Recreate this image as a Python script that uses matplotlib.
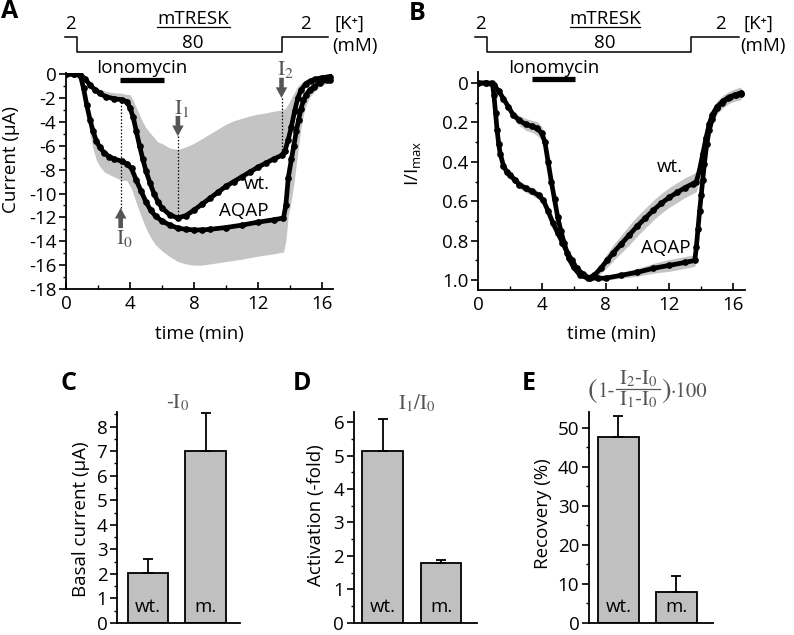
import matplotlib
matplotlib.use("Agg")
import matplotlib.pyplot as plt
from matplotlib.ticker import MultipleLocator, FixedLocator
from matplotlib.transforms import blended_transform_factory

plt.rcParams["font.family"] = ["Open Sans", "DejaVu Sans"]
plt.rcParams["mathtext.fontset"] = "custom"
plt.rcParams["mathtext.rm"] = "Open Sans"
plt.rcParams["mathtext.it"] = "Open Sans:italic"
plt.rcParams["axes.unicode_minus"] = False

# ---- panel A: raw currents (uA) ----
a_wt_t = [0.0, 0.5, 0.9, 1.2, 1.5, 1.8, 2.1, 2.5, 3.0, 3.5,
          3.8, 4.0, 4.2, 4.4, 4.6, 4.8, 5.0, 5.25, 5.5, 5.75,
          6.0, 6.5, 7.0, 7.5, 8.0, 8.5, 9.0, 9.5, 10.0, 10.5,
          11.0, 11.5, 12.0, 12.5, 13.0, 13.5, 13.7, 13.9, 14.1, 14.3,
          14.5, 14.7, 15.0, 15.3, 15.6, 16.0, 16.5]
a_wt_i = [0.0, 0.0, -0.05, -0.4, -0.9, -1.3, -1.6, -1.9, -2.05, -2.15,
          -2.3, -2.8, -3.6, -4.8, -6.0, -7.1, -8.1, -9.1, -10.0, -10.7,
          -11.2, -11.8, -12.05, -11.85, -11.4, -10.9, -10.4, -9.9, -9.4, -9.0,
          -8.6, -8.2, -7.8, -7.45, -7.1, -6.8, -6.4, -5.5, -4.4, -3.1,
          -2.0, -1.35, -0.8, -0.55, -0.42, -0.3, -0.2]
a_wt_err = [0.05, 0.05, 0.05, 0.1, 0.2, 0.3, 0.35, 0.45, 0.5, 0.55,
            0.6, 1.1, 1.4, 2.0, 2.6, 3.1, 3.6, 4.2, 4.7, 5.0,
            5.4, 5.6, 5.75, 5.75, 5.6, 5.5, 5.4, 5.3, 5.2, 5.1,
            4.9, 4.7, 4.45, 4.2, 4.0, 3.8, 3.5, 3.0, 2.4, 1.6,
            1.0, 0.6, 0.35, 0.25, 0.2, 0.15, 0.1]

a_aqap_t = [0.0, 0.5, 0.9, 1.1, 1.3, 1.5, 1.7, 1.9, 2.1, 2.4,
            2.7, 3.0, 3.5, 3.8, 4.1, 4.4, 4.7, 5.0, 5.3, 5.6,
            6.0, 6.5, 7.0, 7.5, 8.0, 8.5, 9.0, 10.0, 11.0, 12.0,
            13.0, 13.6, 13.75, 13.9, 14.1, 14.25, 14.4, 14.55, 14.7, 14.85,
            15.0, 15.25, 15.5, 15.9, 16.3, 16.5]
a_aqap_i = [0.0, 0.0, -0.1, -1.2, -2.6, -3.8, -4.8, -5.6, -6.1, -6.6,
            -6.9, -7.1, -7.3, -7.5, -7.9, -8.9, -9.8, -10.7, -11.4, -11.9,
            -12.3, -12.65, -12.9, -13.0, -13.05, -13.05, -13.0, -12.85, -12.65, -12.4,
            -12.2, -12.05, -11.0, -8.7, -7.1, -6.0, -4.8, -3.8, -2.9, -2.2,
            -1.76, -1.3, -1.06, -0.7, -0.5, -0.45]
a_aqap_err = [0.05, 0.05, 0.1, 0.4, 0.8, 1.2, 1.5, 1.6, 1.6, 1.6,
              1.5, 1.5, 1.6, 1.4, 1.7, 1.9, 2.1, 2.2, 2.3, 2.4,
              2.5, 2.65, 2.8, 2.9, 2.95, 2.95, 2.9, 2.85, 2.85, 2.85,
              2.85, 2.85, 3.0, 3.2, 3.4, 3.2, 2.8, 2.2, 1.6, 1.2,
              0.9, 0.6, 0.45, 0.3, 0.25, 0.2]

# ---- panel B: normalised currents I/Imax ----
b_wt_t = [0.0, 0.5, 1.0, 1.3, 1.6, 1.9, 2.2, 2.6, 3.0, 3.4,
          3.7, 4.0, 4.2, 4.4, 4.6, 4.8, 5.0, 5.2, 5.4, 5.7,
          6.0, 6.4, 6.9, 7.3, 7.7, 8.1, 8.5, 9.0, 9.5, 10.0,
          10.5, 11.0, 11.5, 12.0, 12.5, 13.0, 13.5, 13.7, 13.9, 14.1,
          14.3, 14.5, 14.7, 15.0, 15.4, 15.8, 16.2, 16.5]
b_wt_v = [0.0, 0.0, 0.01, 0.04, 0.08, 0.12, 0.16, 0.19, 0.21, 0.22,
          0.23, 0.255, 0.30, 0.40, 0.50, 0.59, 0.68, 0.75, 0.81, 0.89,
          0.935, 0.975, 0.99, 0.975, 0.94, 0.90, 0.86, 0.815, 0.77, 0.725,
          0.685, 0.645, 0.61, 0.58, 0.555, 0.53, 0.51, 0.50, 0.44, 0.36,
          0.28, 0.21, 0.16, 0.12, 0.09, 0.07, 0.06, 0.055]
b_wt_err = [0.005, 0.005, 0.005, 0.01, 0.015, 0.02, 0.02, 0.025, 0.03, 0.03,
            0.035, 0.035, 0.03, 0.025, 0.02, 0.02, 0.02, 0.02, 0.02, 0.015,
            0.015, 0.01, 0.01, 0.015, 0.025, 0.035, 0.04, 0.045, 0.05, 0.05,
            0.05, 0.05, 0.05, 0.05, 0.05, 0.05, 0.05, 0.05, 0.04, 0.035,
            0.03, 0.03, 0.03, 0.03, 0.03, 0.03, 0.03, 0.03]

b_aqap_t = [0.0, 0.5, 0.9, 1.0, 1.1, 1.2, 1.3, 1.4, 1.6, 1.8,
            2.0, 2.3, 2.6, 3.0, 3.4, 3.8, 4.1, 4.4, 4.7, 5.0,
            5.3, 5.6, 5.9, 6.2, 6.6, 7.0, 7.5, 8.0, 9.0, 10.0,
            11.0, 12.0, 13.0, 13.6, 13.7, 13.8, 13.9, 14.0, 14.1, 14.2,
            14.35, 14.5, 14.7, 15.0, 15.3, 15.7, 16.1, 16.5]
b_aqap_v = [0.0, 0.0, 0.0, 0.06, 0.15, 0.24, 0.31, 0.36, 0.42, 0.45,
            0.467, 0.49, 0.515, 0.535, 0.55, 0.57, 0.595, 0.65, 0.71, 0.76,
            0.81, 0.86, 0.90, 0.94, 0.97, 0.99, 0.99, 0.99, 0.975, 0.96,
            0.94, 0.925, 0.91, 0.90, 0.83, 0.74, 0.65, 0.57, 0.49, 0.41,
            0.31, 0.24, 0.18, 0.125, 0.1, 0.075, 0.06, 0.05]
b_aqap_err = [0.005, 0.005, 0.005, 0.01, 0.015, 0.02, 0.02, 0.02, 0.02, 0.02,
              0.02, 0.02, 0.02, 0.02, 0.02, 0.02, 0.02, 0.025, 0.025, 0.025,
              0.025, 0.02, 0.02, 0.015, 0.01, 0.005, 0.005, 0.01, 0.015, 0.02,
              0.025, 0.03, 0.03, 0.03, 0.035, 0.04, 0.04, 0.04, 0.04, 0.04,
              0.035, 0.03, 0.03, 0.03, 0.03, 0.03, 0.03, 0.03]

ionomycin = [3.4, 6.1]          # application window (min)
k_steps = ["2", "80", "2"]      # [K+] in mM

# ---- panels C-E: bar summaries ----
bar_labels = ["wt.", "m."]
basal = [2.05, 7.0]
basal_err = [0.55, 1.55]
activation = [5.12, 1.8]
activation_err = [0.98, 0.07]
recovery = [47.5, 8.0]
recovery_err = [5.5, 4.0]

GRAY = "#c4c4c4"
ANNOT = "#555555"
FS = 13.5
SERIF = ["STIXGeneral", "DejaVu Serif"]

fig = plt.figure(figsize=(7.94, 6.35), dpi=100)
ax_a = fig.add_axes([0.0831, 0.5449, 0.3363, 0.3402])
ax_b = fig.add_axes([0.6020, 0.5433, 0.3363, 0.3433])
ax_c = fig.add_axes([0.1474, 0.0190, 0.1549, 0.3322])
ax_d = fig.add_axes([0.4458, 0.0190, 0.1549, 0.3322])
ax_e = fig.add_axes([0.7418, 0.0190, 0.1562, 0.3322])


def style(ax):
    ax.spines["top"].set_visible(False)
    ax.spines["right"].set_visible(False)
    ax.spines["left"].set_linewidth(1.3)
    ax.spines["bottom"].set_linewidth(1.3)
    ax.tick_params(axis="y", which="major", direction="out", length=5, width=1.2,
                   labelsize=FS, pad=2)
    ax.tick_params(axis="y", which="minor", direction="out", length=2.5, width=1.0)
    ax.tick_params(axis="x", which="major", direction="in", length=5, width=1.2,
                   labelsize=FS, pad=4)
    ax.tick_params(axis="x", which="minor", direction="in", length=3, width=1.0)


def trace(ax, t, v):
    ax.plot(t, v, color="black", lw=3.4, marker="o", ms=3.8, mfc="black",
            mec="black", zorder=3)


def px(x, y):
    # reference pixel position -> figure fraction
    return x / 794, 1 - y / 635


def serif_text(x, y, s, size=15, **kw):
    fx, fy = px(x, y)
    fig.text(fx, fy, s, fontsize=size, color=ANNOT, family=SERIF,
             math_fontfamily="stix", va="center", **kw)


# ---------------- A ----------------
ax = ax_a
style(ax)
ax.fill_between(a_wt_t, a_wt_i, [v + e for v, e in zip(a_wt_i, a_wt_err)],
                color=GRAY, lw=0, zorder=1)
ax.fill_between(a_aqap_t, [v - e for v, e in zip(a_aqap_i, a_aqap_err)], a_aqap_i,
                color=GRAY, lw=0, zorder=1)
trace(ax, a_wt_t, a_wt_i)
trace(ax, a_aqap_t, a_aqap_i)
ax.set_xlim(0, 16.7)
ax.set_ylim(-18, 0.1)
ax.xaxis.set_major_locator(MultipleLocator(4))
ax.xaxis.set_minor_locator(MultipleLocator(2))
ax.yaxis.set_major_locator(MultipleLocator(2))
ax.yaxis.set_minor_locator(MultipleLocator(1))
ax.set_xlabel("time (min)", fontsize=FS)
ax.xaxis.set_label_coords(0.5, -0.165)
ax.set_ylabel("Current (\u00b5A)", fontsize=FS)
ax.yaxis.set_label_coords(-0.172, 0.6)
ax.text(11.95, -9.2, "wt.", fontsize=FS, ha="center", va="center")
ax.text(11.1, -11.5, "AQAP", fontsize=FS, ha="center", va="center")

# I0, I1, I2 markers
arrow_kw = dict(arrowstyle="simple,head_width=0.75,head_length=0.7,tail_width=0.3",
                mutation_scale=11, color=ANNOT, shrinkA=0, shrinkB=0, lw=0)
ax.plot([3.42, 3.42], [-11.2, -2.15], color="black", lw=0.9, ls=(0, (1.2, 1.5)), zorder=4)
ax.plot([7.0, 7.0], [-5.2, -12.0], color="black", lw=0.9, ls=(0, (1.2, 1.5)), zorder=4)
ax.plot([13.48, 13.48], [-2.0, -6.8], color="black", lw=0.9, ls=(0, (1.2, 1.5)), zorder=4)
ax.annotate("", xy=(3.42, -11.2), xytext=(3.42, -12.9), arrowprops=arrow_kw)
ax.annotate("", xy=(7.0, -5.2), xytext=(7.0, -3.5), arrowprops=arrow_kw)
ax.annotate("", xy=(13.48, -2.0), xytext=(13.48, -0.3), arrowprops=arrow_kw,
            annotation_clip=False)
ax.text(3.66, -13.8, r"$\mathrm{I}_0$", fontsize=16, color=ANNOT, ha="center",
        va="center", math_fontfamily="stix")
ax.text(7.25, -2.85, r"$\mathrm{I}_1$", fontsize=16, color=ANNOT, ha="center",
        va="center", math_fontfamily="stix")
ax.text(13.72, 0.42, r"$\mathrm{I}_2$", fontsize=16, color=ANNOT, ha="center",
        va="center", math_fontfamily="stix")
ax.plot(ionomycin, [-0.5, -0.5], color="black", lw=3.8, solid_capstyle="butt",
        clip_on=False, zorder=5)

# ---------------- B ----------------
ax = ax_b
style(ax)
ax.fill_between(b_wt_t, [v - e for v, e in zip(b_wt_v, b_wt_err)],
                [v + e for v, e in zip(b_wt_v, b_wt_err)], color=GRAY, lw=0, zorder=1)
ax.fill_between(b_aqap_t, [v - e for v, e in zip(b_aqap_v, b_aqap_err)],
                [v + e for v, e in zip(b_aqap_v, b_aqap_err)], color=GRAY, lw=0, zorder=1)
trace(ax, b_wt_t, b_wt_v)
trace(ax, b_aqap_t, b_aqap_v)
ax.set_xlim(0, 16.75)
ax.set_ylim(1.05, -0.056)
ax.xaxis.set_major_locator(MultipleLocator(4))
ax.xaxis.set_minor_locator(MultipleLocator(2))
ax.yaxis.set_major_locator(FixedLocator([0, 0.2, 0.4, 0.6, 0.8, 1.0]))
ax.yaxis.set_minor_locator(FixedLocator([0.1, 0.3, 0.5, 0.7, 0.9]))
ax.set_yticklabels(["0", "0.2", "0.4", "0.6", "0.8", "1.0"])
ax.set_xlabel("time (min)", fontsize=FS)
ax.xaxis.set_label_coords(0.5, -0.16)
ax.set_ylabel(r"I/I$_{\mathrm{max}}$", fontsize=FS)
ax.yaxis.set_label_coords(-0.206, 0.58)
ax.text(12.05, 0.424, "wt.", fontsize=FS, ha="center", va="center")
ax.text(11.8, 0.835, "AQAP", fontsize=FS, ha="center", va="center")
ax.plot(ionomycin, [-0.02, -0.02], color="black", lw=3.8, solid_capstyle="butt",
        clip_on=False, zorder=5)

# ---- solution protocol above A and B ----
for ax, steps, xc, ul, k_left, iono_x, cell in [
        (ax_a, [-0.06, 0.67, 13.48, 16.4], 0.2431, (0.1977, 0.2897), 0.4219, 0.1788, (0.0882, 0.3851)),
        (ax_b, [-0.19, 0.58, 13.35, 16.37], 0.7620, (0.7179, 0.8060), 0.9358, 0.6977, (0.6045, 0.9068))]:
    tr = blended_transform_factory(ax.transData, fig.transFigure)
    hi, lo = 0.9422, 0.9176
    ax.plot([steps[0], steps[1], steps[1], steps[2], steps[2], steps[3]],
            [hi, hi, lo, lo, hi, hi], transform=tr, color="black", lw=1.1, clip_on=False)
    fig.text(xc, 0.970, "mTRESK", fontsize=FS, ha="center", va="center")
    fig.add_artist(plt.Line2D(ul, [0.9575, 0.9575], color="black", lw=0.9))
    fig.text(xc, 0.933, k_steps[1], fontsize=FS, ha="center", va="center")
    fig.text(cell[0], 0.962, k_steps[0], fontsize=FS, ha="center", va="center")
    fig.text(cell[1], 0.962, k_steps[2], fontsize=FS, ha="center", va="center")
    fig.text(k_left, 0.962, "[K\u207a]", fontsize=FS, ha="left", va="center")
    fig.text(k_left - 0.003, 0.927, "(mM)", fontsize=FS, ha="left", va="center")
    fig.text(iono_x, 0.8937, "Ionomycin", fontsize=FS, ha="center", va="center")

# ---------------- C, D, E ----------------
bar_panels = [
    (ax_c, basal, basal_err, 8.6, 1, 0.5, (-0.54, 1.6), "Basal current (\u00b5A)", -0.22, 0.49),
    (ax_d, activation, activation_err, 6.3, 1, 0.5, (-0.49, 1.615), "Activation (-fold)", -0.236, 0.51),
    (ax_e, recovery, recovery_err, 54, 10, 5, (-0.505, 1.63), "Recovery (%)", -0.298, 0.52),
]
for ax, vals, errs, top, major, minor, xl, ylab, lx, ly in bar_panels:
    style(ax)
    xs = list(range(len(vals)))
    ax.bar(xs, vals, width=0.7, color="#c0c0c0", edgecolor="black", linewidth=1.3,
           yerr=[[0] * len(errs), errs], capsize=3.5,
           error_kw=dict(elinewidth=1.3, capthick=1.3, ecolor="black"), zorder=2)
    ax.set_ylim(0, top)
    ax.set_xlim(*xl)
    ax.set_xticks([])
    ax.yaxis.set_major_locator(MultipleLocator(major))
    ax.yaxis.set_minor_locator(MultipleLocator(minor))
    ax.set_ylabel(ylab, fontsize=FS)
    ax.yaxis.set_label_coords(lx, ly)
    tr = blended_transform_factory(ax.transData, ax.transAxes)
    for x, lab in zip(xs, bar_labels):
        ax.text(x, 0.075, lab, transform=tr, fontsize=FS, ha="center", va="center", zorder=3)

# titles of the bar panels (serif, grey)
serif_text(178, 403, r"-$\mathrm{I}_0$", ha="center")
serif_text(417, 403, r"$\mathrm{I}_1$/$\mathrm{I}_0$", ha="center")
# recovery formula: (1 - (I2-I0)/(I1-I0)) . 100
serif_text(588, 391, "(", size=21, ha="left")
serif_text(598, 392, "1-", size=15, ha="left")
serif_text(638, 379, r"$\mathrm{I}_2$-$\mathrm{I}_0$", size=15, ha="center")
fig.add_artist(plt.Line2D([616 / 794, 660 / 794], [1 - 389 / 635, 1 - 389 / 635],
                          color=ANNOT, lw=0.9))
serif_text(638, 400, r"$\mathrm{I}_1$-$\mathrm{I}_0$", size=15, ha="center")
serif_text(661, 391, ")", size=21, ha="left")
serif_text(670, 392, "\u00b7100", size=15, ha="left")

# panel letters
for x, y, s in [(0.0126, 0.982, "A"), (0.5258, 0.979, "B"), (0.0869, 0.396, "C"),
                (0.3804, 0.396, "D"), (0.6656, 0.396, "E")]:
    fig.text(x, y, s, fontsize=18, fontweight="bold", ha="center", va="center",
             family=["Open Sans", "DejaVu Sans"])

fig.savefig("out.png", dpi=100)
